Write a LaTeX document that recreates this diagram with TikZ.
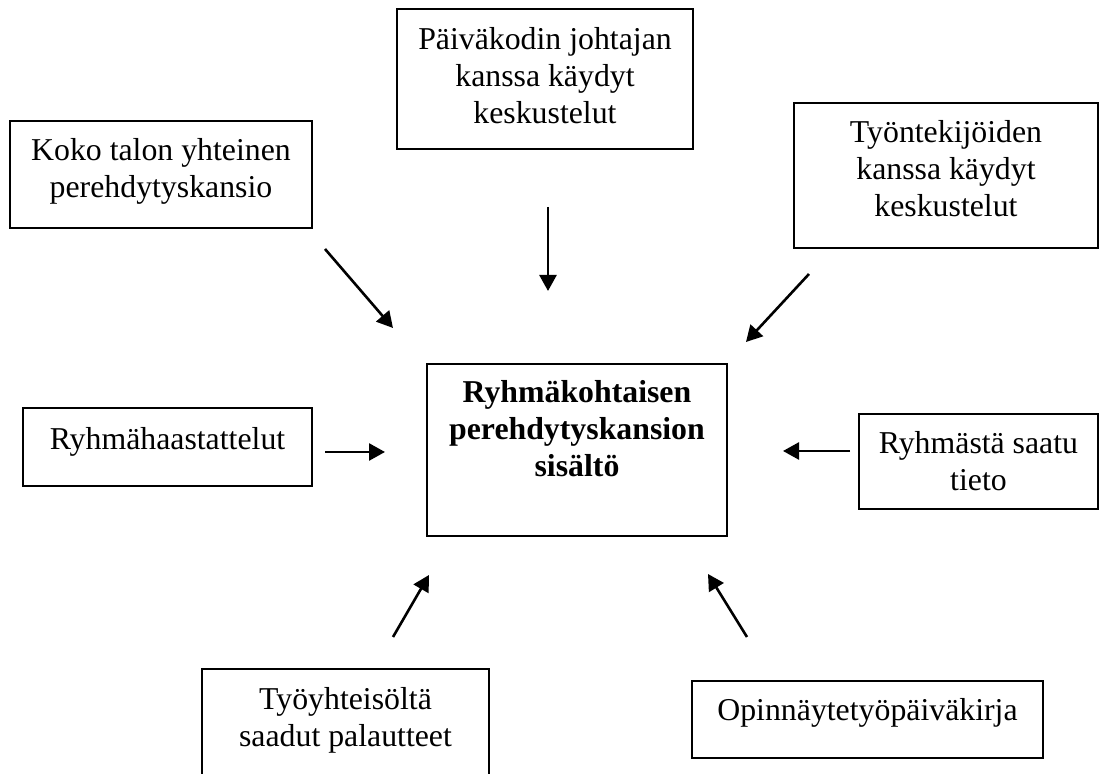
\documentclass[tikz,border=0pt]{standalone}
\usepackage{fontspec}
\setmainfont{Liberation Serif}
\usetikzlibrary{arrows.meta}
\tikzset{
  box/.style={draw=black, line width=0.6pt, rectangle, inner sep=0pt},
  txt/.style={anchor=north, inner sep=0pt, align=center, font=\fontsize{15.9}{18.5}\selectfont},
  arr/.style={line width=1.3pt, -{Triangle[length=8pt,width=8.5pt]}},
}
\begin{document}
\begin{tikzpicture}[x=0.5pt,y=-0.5pt]
\useasboundingbox (0,0) rectangle (1100,774);
\clip (0,0) rectangle (1100,774);
% boxes
\node[box, minimum width=151pt, minimum height=53.5pt] (b1) at (161,174.5) {};
\node[box, minimum width=148pt, minimum height=70pt] (b2) at (545,79) {};
\node[box, minimum width=152pt, minimum height=72.5pt] (b3) at (946,175.5) {};
\node[box, minimum width=144.5pt, minimum height=39pt] (b4) at (167.5,447) {};
\node[box, minimum width=150pt, minimum height=86pt] (c) at (577,450) {};
\node[box, minimum width=119.5pt, minimum height=47.5pt] (b6) at (978.5,461.5) {};
\node[box, minimum width=143.5pt, minimum height=65.5pt] (b7) at (345.5,734.5) {};
\node[box, minimum width=175.5pt, minimum height=38.5pt] (b8) at (867.5,719.5) {};
% texts
\node[txt] (t1) at ([yshift=-7pt]b1.north) {\strut Koko talon yhteinen\\perehdytyskansio};
\node[txt] (t2) at ([yshift=-7.5pt]b2.north) {\strut Päiväkodin johtajan\\kanssa käydyt\\keskustelut};
\node[txt] (t3) at ([yshift=-7pt]b3.north) {\strut Työntekijöiden\\kanssa käydyt\\keskustelut};
\node[txt] (t4) at ([yshift=-8pt]b4.north) {\strut Ryhmähaastattelut};
\node[txt, font=\fontsize{15.9}{18.5}\selectfont\bfseries] (tc) at ([yshift=-6.5pt]c.north) {\strut Ryhmäkohtaisen\\perehdytyskansion\\sisältö};
\node[txt] (t6) at ([yshift=-7pt]b6.north) {\strut Ryhmästä saatu\\tieto};
\node[txt] (t7) at ([yshift=-7.5pt]b7.north) {\strut Työyhteisöltä\\saadut palautteet};
\node[txt] (t8) at ([yshift=-7pt]b8.north) {\strut Opinnäytetyöpäiväkirja};
% arrow end points
\coordinate (a1s) at (325,249); \coordinate (a1e) at (393,328);
\coordinate (a2s) at (548,207); \coordinate (a2e) at (548,291);
\coordinate (a3s) at (809,274); \coordinate (a3e) at (746,342);
\coordinate (a4s) at (325,452); \coordinate (a4e) at (385,452);
\coordinate (a5s) at (850,451); \coordinate (a5e) at (783,451);
\coordinate (a6s) at (393,637); \coordinate (a6e) at (429,575);
\coordinate (a7s) at (747,637); \coordinate (a7e) at (708,574);
\draw[arr] (a1s) -- (a1e);
\draw[arr] (a2s) -- (a2e);
\draw[arr] (a3s) -- (a3e);
\draw[arr] (a4s) -- (a4e);
\draw[arr] (a5s) -- (a5e);
\draw[arr] (a6s) -- (a6e);
\draw[arr] (a7s) -- (a7e);
\end{tikzpicture}
\end{document}
